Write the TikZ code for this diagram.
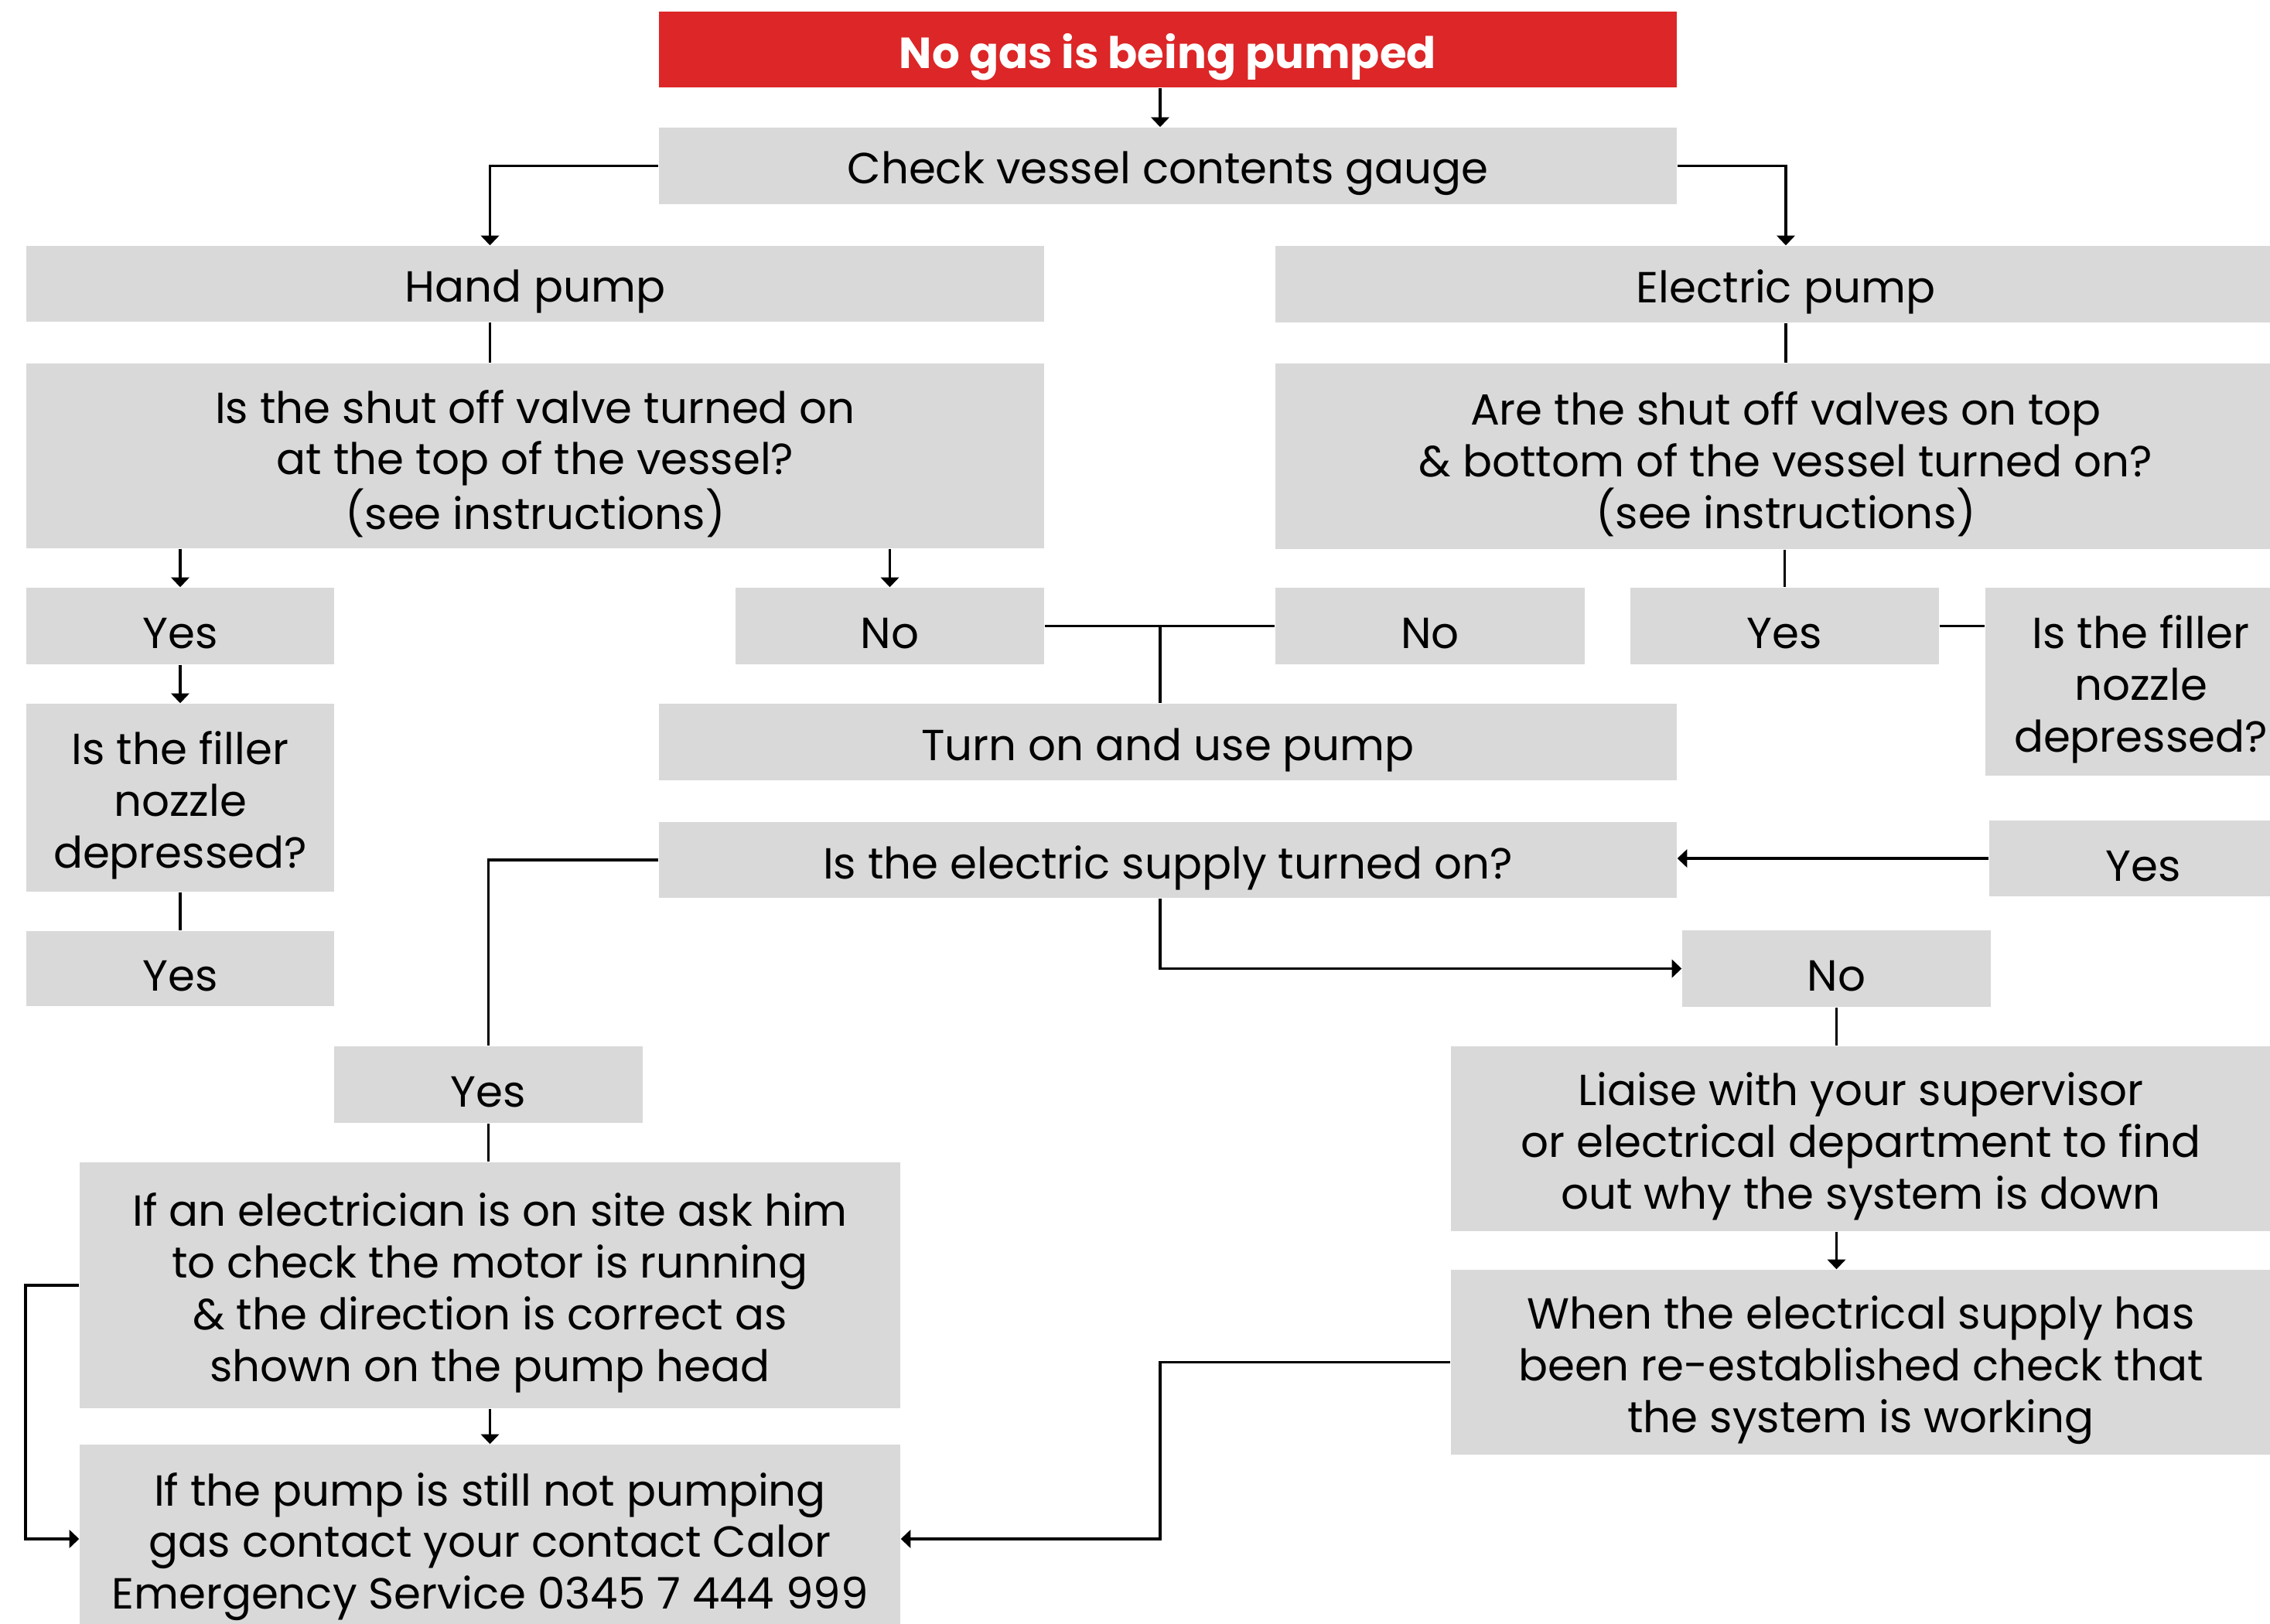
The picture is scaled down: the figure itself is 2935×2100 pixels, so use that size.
\documentclass[tikz,border=0pt]{standalone}
\usepackage{fontspec}
\setmainfont{Poppins}
\usetikzlibrary{arrows.meta,calc}
\definecolor{calred}{RGB}{220,38,39}
\definecolor{boxgray}{RGB}{217,217,217}
\tikzset{
  box/.style={fill=boxgray, inner sep=0pt},
  txt/.style={inner sep=0pt, align=center, text=black, font=\fontsize{16}{19}\selectfont},
  titlebox/.style={fill=calred},
  titletxt/.style={text=white, font=\fontsize{16}{19}\selectfont\bfseries},
  conn/.style={line width=1.1pt, draw=black},
  arr/.style={conn, -{Triangle[length=3.6pt,width=6.6pt]}},
}
% \bx[box style][text style]{name}{x1}{y1}{x2}{y2}{text}
\newcommand{\bx}[7][]{\node[box, #1, minimum width={(#5-#3)*0.01cm}, minimum height={(#6-#4)*0.01cm}] (#2) at ({(#3+#5)/2},{(#4+#6)/2}) {};%
  \node[txt, \bxtxt] (#2-t) at ([yshift=-0.1cm]#2.center) {#7};\def\bxtxt{}}
\def\bxtxt{}
\begin{document}
\begin{tikzpicture}[x=0.01cm, y=-0.01cm]
\useasboundingbox (0,0) rectangle (2935,2100);
\clip (0,0) rectangle (2935,2100);
\fill[white] (0,0) rectangle (2935,2100);
\coordinate (spine) at (1500,0);
% boxes
\def\bxtxt{titletxt}
\bx[titlebox]{red}{852}{15}{2168}{113}{No gas is being pumped}
\bx{check}{852}{165}{2168}{264}{Check vessel contents gauge}
\bx{hand}{34}{318}{1350}{416}{Hand pump}
\bx{epump}{1649}{318}{2969}{417}{Electric pump}
\bx{hq}{34}{470}{1350}{709}{Is the shut off valve turned on\\at the top of the vessel?\\(see instructions)}
\bx{eq}{1649}{470}{2969}{710}{Are the shut off valves on top\\\& bottom of the vessel turned on?\\(see instructions)}
\bx{yesH}{34}{760}{432}{859}{Yes}
\bx{noH}{951}{760}{1350}{859}{No}
\bx{noE}{1649}{760}{2049}{859}{No}
\bx{yesE}{2108}{760}{2507}{859}{Yes}
\bx{fillR}{2567}{760}{2969}{1003}{Is the filler\\nozzle\\depressed?}
\bx{fillL}{34}{910}{432}{1153}{Is the filler\\nozzle\\depressed?}
\bx{turn}{852}{910}{2168}{1009}{Turn on and use pump}
\bx{supply}{852}{1063}{2168}{1161}{Is the electric supply turned on?}
\bx{yesR}{2572}{1061}{2970}{1159}{Yes}
\bx{yesL}{34}{1204}{432}{1301}{Yes}
\bx{noS}{2175}{1203}{2574}{1302}{No}
\bx{yesS}{432}{1353}{831}{1452}{Yes}
\bx{liaise}{1876}{1353}{2936}{1592}{Liaise with your supervisor\\or electrical department to find\\out why the system is down}
\bx{electr}{103}{1503}{1164}{1821}{If an electrician is on site ask him\\to check the motor is running\\\& the direction is correct as\\shown on the pump head}
\bx{when}{1876}{1642}{2936}{1881}{When the electrical supply has\\been re-established check that\\the system is working}
\bx{still}{103}{1868}{1164}{2112}{If the pump is still not pumping\\gas contact your contact Calor\\Emergency Service 0345 7 444 999}
% connectors
\draw[arr] (red.south -| spine) -- (check.north -| spine);
\draw[arr] (check.west) -| (hand.north -| electr.north);
\draw[arr] (check.east) -| (epump.north);
\draw[conn] (hand.south -| electr.north) -- (hq.north -| electr.north);
\draw[conn] (epump.south) -- (eq.north);
\draw[arr] (hq.south -| yesH.north) -- (yesH.north);
\draw[arr] (hq.south -| noH.north) -- (noH.north);
\draw[arr] (yesH.south) -- (fillL.north);
\draw[conn] (fillL.south) -- (yesL.north);
\draw[conn] (noH.east) -- (noE.west);
\draw[conn] (noH.east -| spine) -- (turn.north -| spine);
\draw[conn] (eq.south -| yesE.north) -- (yesE.north);
\draw[conn] (yesE.east) -- (yesE.east -| fillR.west);
\draw[arr] (yesR.west) -- (yesR.west -| supply.east);
\draw[conn] (supply.west) -| (yesS.north);
\draw[arr] (supply.south -| spine) |- (noS.west);
\draw[conn] (noS.south) -- (liaise.north -| noS.south);
\draw[arr] (liaise.south -| noS.south) -- (when.north -| noS.south);
\draw[conn] (yesS.south) -- (electr.north -| yesS.south);
\draw[arr] (electr.south) -- (still.north);
\draw[arr] (electr.west) -- (electr.west -| fillL.west) |- (still.west);
\draw[arr] (when.west) -- (when.west -| spine) |- (still.east);
\end{tikzpicture}
\end{document}
